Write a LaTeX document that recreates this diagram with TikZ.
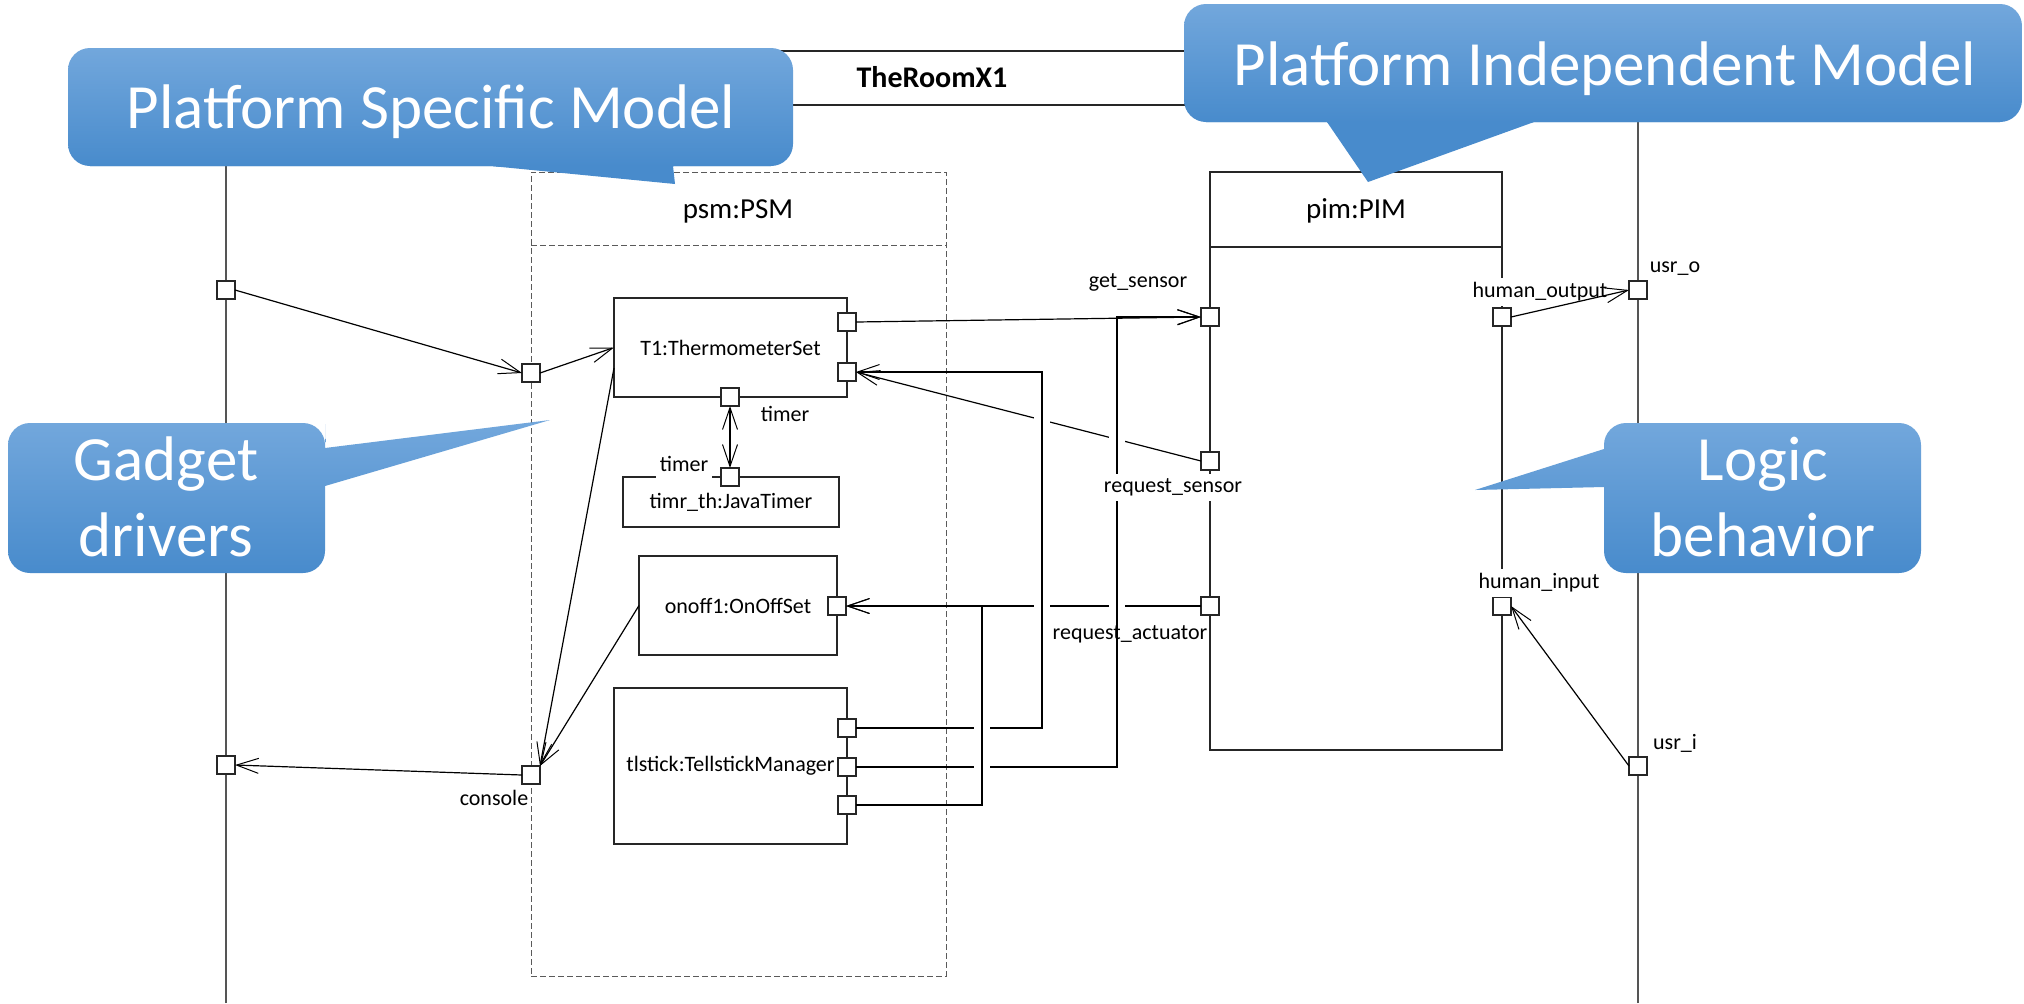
\documentclass[tikz,border=0pt]{standalone}
\usepackage{fontspec}
\setmainfont{Carlito}
\usetikzlibrary{arrows.meta}
\definecolor{calltop}{RGB}{114,167,220}
\definecolor{callbot}{RGB}{72,139,204}
\definecolor{lifegray}{RGB}{85,85,85}
\definecolor{dashgray}{RGB}{90,90,90}
\tikzset{
  umlbarb/.tip={Straight Barb[length=11pt,width=7.5pt,line width=0.5pt]},
  port/.style={draw=black!85, fill=white, line width=0.55pt, minimum width=9pt, minimum height=9pt, inner sep=0pt, outer sep=0pt},
  part/.style={draw=black!85, line width=0.75pt, inner sep=0pt, outer sep=0pt, font=\fontsize{11pt}{13pt}\selectfont},
  lbl/.style={inner sep=0pt, anchor=base, font=\fontsize{11pt}{13pt}\selectfont},
  lblbg/.style={lbl, fill=white, inner sep=2pt, text depth=2.5pt},
  hdr/.style={inner sep=0pt, anchor=base, font=\fontsize{14.5pt}{17pt}\selectfont},
  conn/.style={line width=0.6pt, -umlbarb},
  biconn/.style={line width=0.6pt, umlbarb-umlbarb},
  knockout/.style={draw=white, line width=8pt, shorten <=5pt, shorten >=5pt},
  calltext/.style={text=white, align=center, inner sep=0pt, font=\fontsize{31.5pt}{38pt}\selectfont},
  lifeline/.style={draw=lifegray, line width=0.55pt},
  hdrline/.style={draw=black!85, line width=0.7pt},
  dashedframe/.style={draw=dashgray, dash pattern=on 3pt off 1.5pt, line width=0.5pt},
  pimframe/.style={draw=black!85, line width=0.75pt},
}
\begin{document}
\begin{tikzpicture}[x=0.5pt,y=-0.5pt]
\useasboundingbox (0,0) rectangle (2024,1003);
\fill[white] (0,0) rectangle (2024,1003);

% composite TheRoomX1: header and its two sides
\draw[lifeline] (226,1003) -- (226,51);
\draw[lifeline] (1638,1003) -- (1638,51);
\draw[hdrline] (226,51) -- (1638,51);
\draw[hdrline] (226,105) -- (1638,105);
\node[inner sep=0pt, anchor=base, font=\fontsize{15pt}{18pt}\selectfont\bfseries] (room) at (932,87) {TheRoomX1};

% psm:PSM part (dashed)
\node[dashedframe, minimum width=207.5pt, minimum height=402pt, inner sep=0pt] (psm) at (738.5,574) {};
\draw[dashedframe] (531,245) -- (946,245);
\node[hdr] (psmname) at (738,218) {psm:PSM};

% pim:PIM part
\node[pimframe, minimum width=146pt, minimum height=289pt, inner sep=0pt] (pim) at (1356,461) {};
\draw[pimframe] (1210,247) -- (1502,247);
\node[hdr] (pimname) at (1356,218) {pim:PIM};

% inner parts of psm
\node[part, minimum width=116.5pt, minimum height=49.5pt] (t1) at (730.5,347.5) {T1:ThermometerSet};
\node[part, minimum width=108pt, minimum height=25pt] (jt) at (731,502) {timr\_th:JavaTimer};
\node[part, minimum width=99pt, minimum height=49.5pt] (oo) at (738,605.5) {onoff1:OnOffSet};
\node[part, minimum width=116.5pt, minimum height=78pt] (ts) at (730.5,766) {tlstick:TellstickManager};

% ports
\node[port] (lp1) at (226,290) {};
\node[port] (lp2) at (226,765) {};
\node[port] (psmp) at (531,373) {};
\node[port] (cons) at (531,775) {};
\node[port] (t1p1) at (847,322) {};
\node[port] (t1p2) at (847,372) {};
\node[port] (t1tp) at (730,397) {};
\node[port] (jtp) at (730,477) {};
\node[port] (oop) at (837,606) {};
\node[port] (tsp1) at (847,728) {};
\node[port] (tsp2) at (847,767) {};
\node[port] (tsp3) at (847,805) {};
\node[port] (gsp) at (1210,317) {};
\node[port] (rsp) at (1210,461) {};
\node[port] (rap) at (1210,606) {};
\node[port] (hop) at (1502,317) {};
\node[port] (hip) at (1502,606) {};
\node[port] (uop) at (1638,290) {};
\node[port] (uip) at (1638,766) {};

% label drawn under its connector
\node[lblbg] (hoplbl) at (1540,297) {human\_output};

% connectors
\draw[conn] (lp1.east) -- (psmp.west);
\draw[conn] (psmp.east) -- (t1.west);
\draw[conn] (t1.190) -- (cons.north east);
\draw[conn] (oo.west) -- (cons.north east);
\draw[conn] (cons.west) -- (lp2.east);
\draw[biconn] (t1tp.south) -- (jtp.north);
\draw[conn] (t1p1.east) -- (gsp.west);
\draw[conn] (rsp.west) -- (t1p2.east);
\draw[conn] (rap.west) -- (oop.east);

% routed wires from the Tellstick manager (crossings drawn as gaps)
\coordinate (k1a) at (1042,372); \coordinate (k1b) at (1042,728);
\coordinate (k2a) at (1117,317); \coordinate (k2b) at (1117,767);
\coordinate (k3a) at (982,606);  \coordinate (k3b) at (982,805);
\draw[knockout] (k1a) -- (k1b);
\draw[knockout] (k2a) -- (k2b);
\draw[conn] (tsp1.east) -- (k1b) -- (k1a) -- (t1p2.east);
\draw[conn] (tsp2.east) -- (k2b) -- (k2a) -- (gsp.west);
\draw[knockout] (k3a) -- (k3b);
\draw[conn] (tsp3.east) -- (k3b) -- (k3a) -- (oop.east);

\draw[conn] (hop.east) -- (uop.west);
\draw[conn] (uip.west) -- (hip.east);

% port labels
\node[lbl] (t1tlbl) at (785,421) {timer};
\node[lblbg] (jtlbl) at (684,471) {timer};
\node[lbl] (conslbl) at (494,805) {console};
\node[lbl] (gslbl) at (1138,287) {get\_sensor};
\node[lblbg] (rslbl) at (1173,492) {request\_sensor};
\node[lbl] (ralbl) at (1130,639) {request\_actuator};
\node[lblbg] (hilbl) at (1539,588) {human\_input};
\node[lbl] (uolbl) at (1675,272) {usr\_o};
\node[lbl] (uilbl) at (1675,749) {usr\_i};

% callout: Platform Specific Model
\begin{scope}
  \clip (68,107) [rounded corners=11pt] -- (68,48) -- (793,48) -- (793,166) -- (733,166)
        [sharp corners] -- (673,166) -- (675,184) -- (491,166) -- (431,166)
        [rounded corners=11pt] -- (68,166) -- cycle;
  \shade[top color=calltop, bottom color=callbot] (60,48) rectangle (800,166);
  \fill[callbot] (60,166) rectangle (800,190);
\end{scope}
\node[calltext, anchor=base] (psmnote) at (431,128) {Platform Specific Model};

% callout: Platform Independent Model
\begin{scope}
  \clip (1184,63) [rounded corners=11pt] -- (1184,4) -- (2022,4) -- (2022,122) -- (1594,122)
        [sharp corners] -- (1534,122) -- (1368,182) -- (1327,122) -- (1267,122)
        [rounded corners=11pt] -- (1184,122) -- cycle;
  \shade[top color=calltop, bottom color=callbot] (1180,4) rectangle (2024,122);
  \fill[callbot] (1180,122) rectangle (2024,190);
\end{scope}
\node[calltext, anchor=base] (pimnote) at (1605,85) {Platform Independent Model};

% callout: Gadget drivers
\begin{scope}
  \clip (166,423) [rounded corners=11pt] -- (325,423) -- (325,446)
        [sharp corners] -- (325,448) -- (550,420) -- (325,486) -- (325,495)
        [rounded corners=11pt] -- (325,573) -- (8,573) -- (8,423) -- cycle;
  \shade[top color=calltop, bottom color=callbot] (0,423) rectangle (560,573);
  \fill[calltop] (0,410) rectangle (560,423);
\end{scope}
\node[calltext] (gadgetnote) at (166,497) {Gadget\\drivers};

% callout: Logic behavior
\begin{scope}
  \clip (1762,423) [rounded corners=11pt] -- (1921,423) -- (1921,573) -- (1604,573) -- (1604,495)
        [sharp corners] -- (1604,487) -- (1475,490) -- (1604,449) -- (1604,446)
        [rounded corners=11pt] -- (1604,423) -- cycle;
  \shade[top color=calltop, bottom color=callbot] (1470,423) rectangle (1930,573);
\end{scope}
\node[calltext] (logicnote) at (1763,497.5) {Logic\\behavior};
\end{tikzpicture}
\end{document}
